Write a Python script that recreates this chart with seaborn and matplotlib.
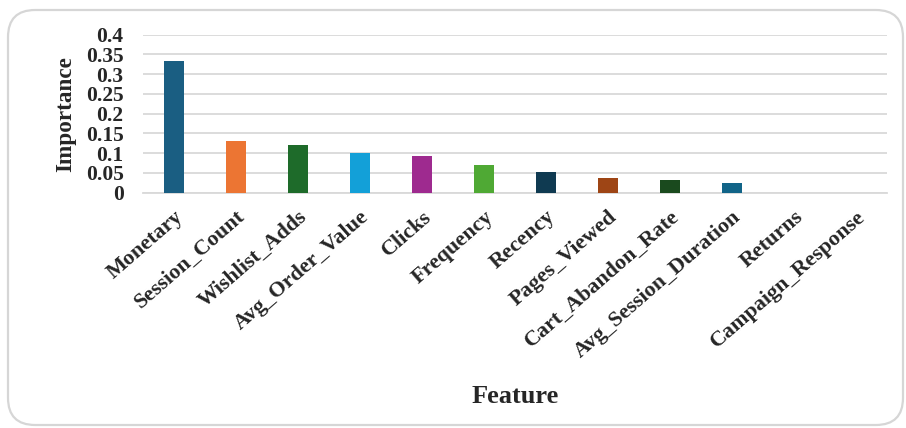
import matplotlib
matplotlib.use("Agg")
import matplotlib.pyplot as plt
from matplotlib.patches import FancyBboxPatch
import seaborn as sns
import pandas as pd

features = ["Monetary", "Session_Count", "Wishlist_Adds", "Avg_Order_Value",
            "Clicks", "Frequency", "Recency", "Pages_Viewed",
            "Cart_Abandon_Rate", "Avg_Session_Duration", "Returns",
            "Campaign_Response"]
importance = [0.334, 0.130, 0.122, 0.101, 0.092, 0.071, 0.052, 0.037,
              0.032, 0.025, 0.0, 0.0]
bar_colors = ["#1a5e82", "#ec7533", "#1e6b2a", "#13a0d8", "#9e2a8f",
              "#4fa934", "#0f3a51", "#9e4515", "#1a4a1e", "#116488",
              "#e07a2e", "#2a7a38"]
y_ticks = [0, 0.05, 0.1, 0.15, 0.2, 0.25, 0.3, 0.35, 0.4]
y_tick_labels = ["0", "0.05", "0.1", "0.15", "0.2", "0.25", "0.3", "0.35", "0.4"]

df = pd.DataFrame({"Feature": features, "Importance": importance})

sns.set_style("white")
plt.rcParams["font.family"] = ["Liberation Serif", "DejaVu Serif"]
plt.rcParams["font.weight"] = "bold"

fig = plt.figure(figsize=(9.06, 4.28), dpi=100)
fig.patch.set_facecolor("white")

# rounded outer frame
frame = FancyBboxPatch((8 / 906, 3 / 428), 895 / 906, 415 / 428,
                       boxstyle="round,pad=0,rounding_size=0.03",
                       transform=fig.transFigure, facecolor="none",
                       edgecolor="#d6d6d6", linewidth=1.6, zorder=0,
                       mutation_aspect=906 / 428)
fig.patches.append(frame)

ax = fig.add_axes([143 / 906, 1 - 192.7 / 428, 744 / 906, 158 / 428])
sns.barplot(data=df, x="Feature", y="Importance", hue="Feature",
            palette=bar_colors, saturation=1, legend=False, width=0.32,
            ax=ax, edgecolor="none", zorder=3)

ax.set_ylim(0, 0.4)
ax.set_xlim(-0.5, len(features) - 0.5)
ax.set_yticks(y_ticks)
ax.set_yticklabels(y_tick_labels, fontsize=15.5, fontweight="bold")
ax.tick_params(axis="y", length=0, pad=14)
ax.tick_params(axis="x", length=0, pad=10)
ax.set_xticks(range(len(features)))
ax.set_xticklabels(features, rotation=41, ha="right", rotation_mode="anchor",
                   fontsize=15.8, fontweight="bold")

ax.grid(axis="y", color="#d9d9d9", linewidth=1.3, zorder=0)
ax.set_axisbelow(True)
for side in ["top", "right", "left"]:
    ax.spines[side].set_visible(False)
ax.spines["bottom"].set_color("#d9d9d9")
ax.spines["bottom"].set_linewidth(1.3)

ax.set_ylabel("Importance", fontsize=16.7, fontweight="bold")
ax.yaxis.set_label_coords(-0.09, 0.5)
ax.set_xlabel("Feature", fontsize=19, fontweight="bold")
ax.xaxis.set_label_coords(0.5, -1.22)

fig.savefig("out.png", dpi=100, facecolor="white")
